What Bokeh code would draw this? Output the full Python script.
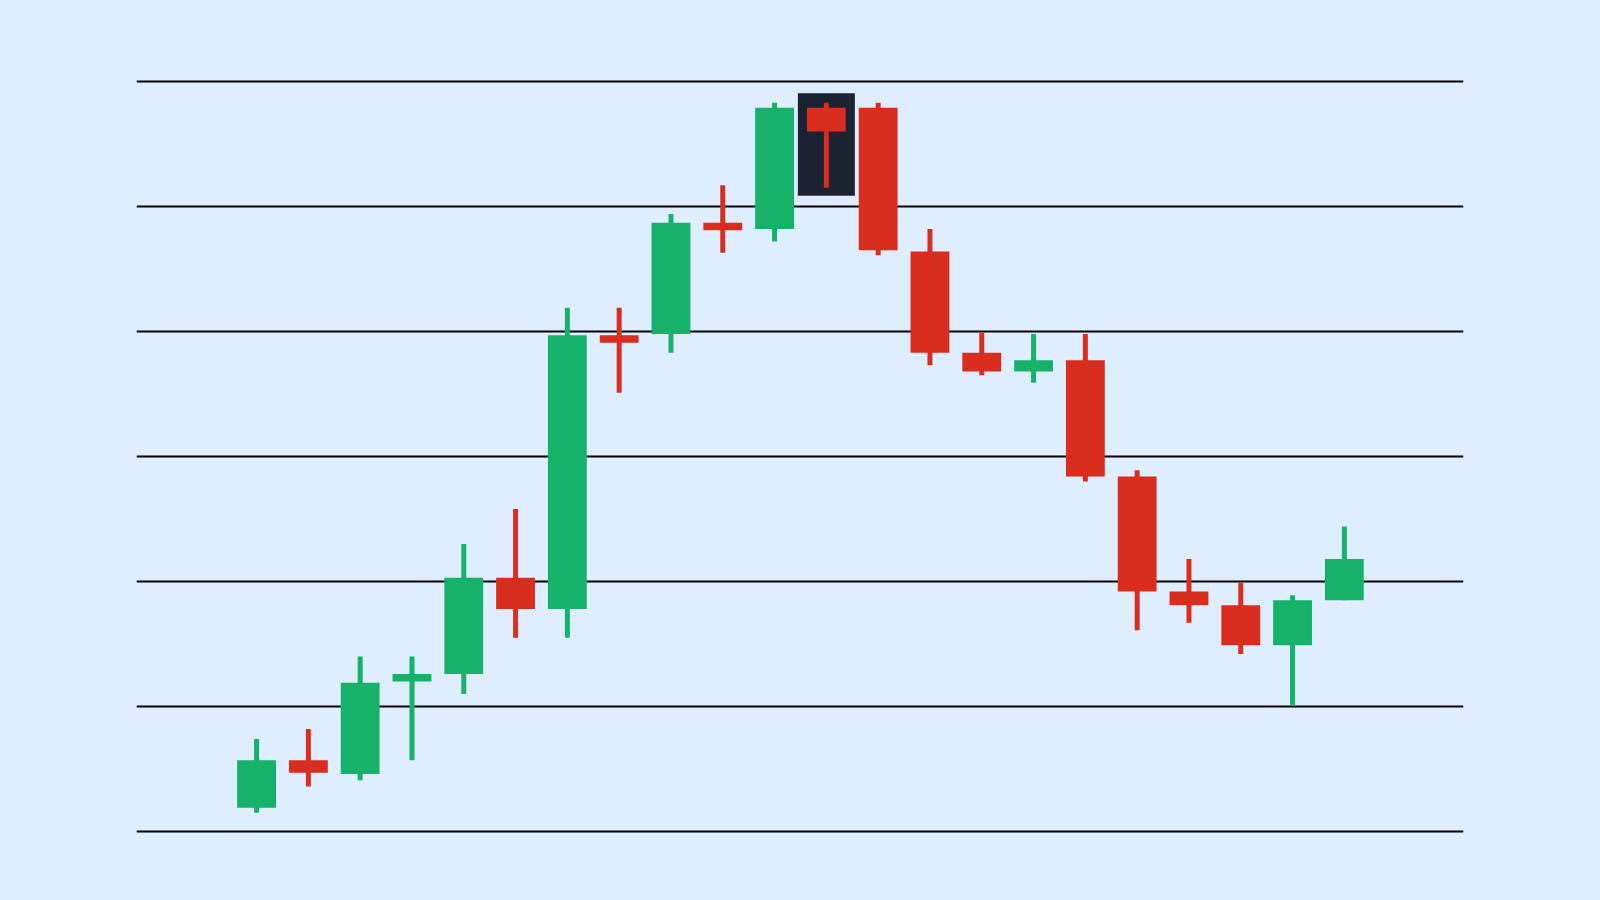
from bokeh.plotting import figure
from bokeh.models import ColumnDataSource, FixedTicker, Range1d
from bokeh.embed import file_html
from bokeh.resources import INLINE

# ---- data (OHLC) ----
opens  = [101.9, 105.7, 104.6, 112.0, 112.6, 120.3, 117.8, 139.7, 139.8, 148.7, 148.2,
          157.9, 157.9, 146.4, 138.3, 136.8, 137.7, 128.4, 119.2, 118.1, 114.9, 118.5]
highs  = [107.4, 108.2, 114.0, 114.0, 123.0, 125.8, 141.9, 141.9, 149.4, 151.7, 158.3,
          158.3, 158.3, 148.2, 139.9, 139.8, 139.8, 128.9, 121.8, 119.9, 118.9, 124.4]
lows   = [101.5, 103.6, 104.1, 105.7, 111.0, 115.5, 115.5, 135.1, 138.3, 146.3, 147.2,
          151.5, 146.1, 137.3, 136.5, 135.9, 128.0, 116.1, 116.7, 114.2, 110.1, 118.5]
closes = [105.7, 104.7, 111.9, 112.6, 120.3, 117.8, 139.7, 139.1, 148.7, 148.1, 157.9,
          156.0, 146.5, 138.3, 136.8, 137.7, 128.4, 119.2, 118.1, 114.9, 118.5, 121.8]
grid_levels = [100, 110, 120, 130, 140, 150, 160]
highlight_index = 11

GREEN = "#17B26A"
RED = "#D92D20"
BG = "#DEEEFF"
BOX = "#1B2332"

idx = list(range(len(opens)))
colors = [GREEN if c >= o else RED for o, c in zip(opens, closes)]
src = ColumnDataSource(dict(
    x=idx, open=opens, high=highs, low=lows, close=closes,
    top=[max(o, c) for o, c in zip(opens, closes)],
    bottom=[min(o, c) for o, c in zip(opens, closes)],
    color=colors,
))

p = figure(width=1600, height=900, output_backend="svg", toolbar_location=None,
           x_range=Range1d(-2.318, 23.30), y_range=Range1d(96.08, 164.88),
           min_border_left=136, min_border_right=137, min_border_top=20, min_border_bottom=20)
p.background_fill_color = BG
p.border_fill_color = BG
p.outline_line_color = None
p.xaxis.visible = False
p.yaxis.visible = False
p.xgrid.grid_line_color = None
p.ygrid.ticker = FixedTicker(ticks=grid_levels)
p.ygrid.grid_line_color = "#000000"
p.ygrid.grid_line_width = 2

# highlight box around one candle
h = highlight_index
p.quad(left=[h - 0.55], right=[h + 0.55],
       top=[highs[h] + 0.77], bottom=[lows[h] - 0.64],
       fill_color=BOX, line_color=None)

p.segment(x0="x", y0="low", x1="x", y1="high", source=src,
          line_color="color", line_width=5, line_cap="butt")
p.vbar(x="x", width=0.75, top="top", bottom="bottom", source=src,
       fill_color="color", line_color=None)

html = file_html(p, INLINE)
html = html.replace("</head>",
                    "<style>html, body { margin: 0 !important; padding: 0 !important; "
                    "background-color: %s; overflow: hidden; }</style></head>" % BG, 1)
open("out.html", "w").write(html)
